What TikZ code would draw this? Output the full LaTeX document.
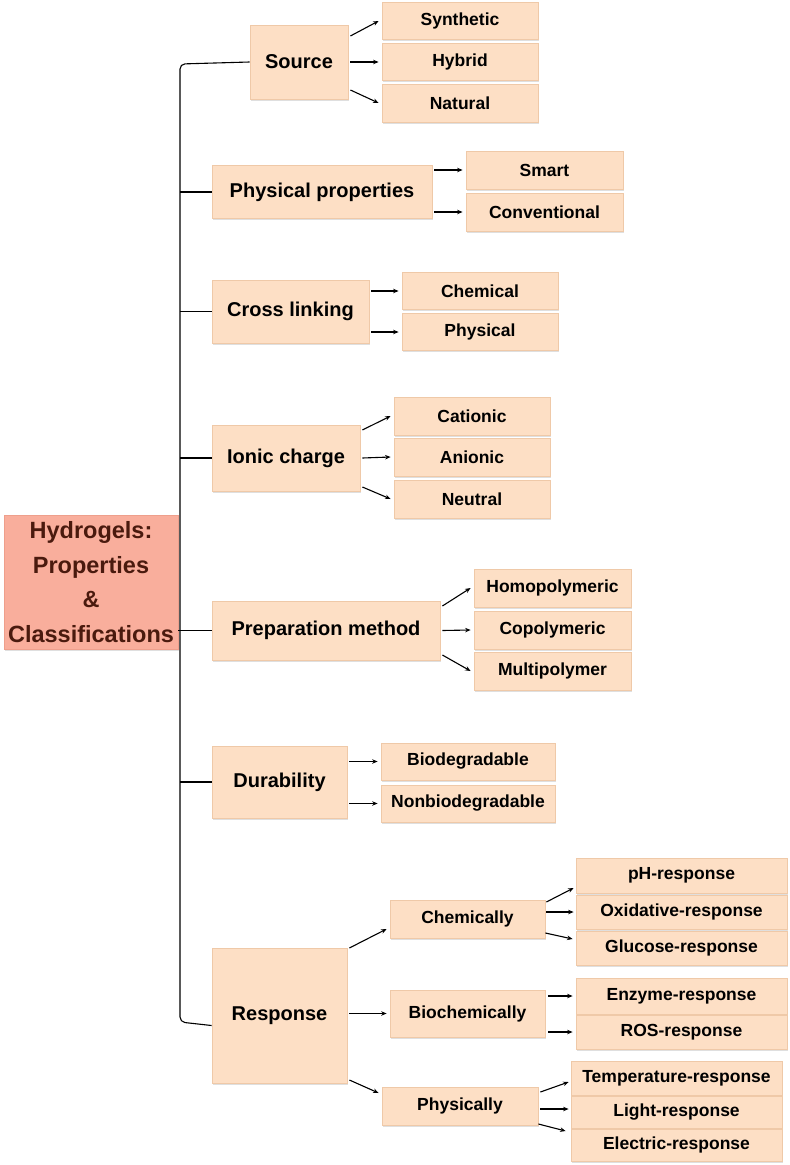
\documentclass[tikz,border=0pt]{standalone}
\usepackage{fontspec}
\setmainfont{Liberation Sans}
\usetikzlibrary{shadows,arrows.meta}
\definecolor{boxfill}{HTML}{FDDFC5}
\definecolor{boxedge}{HTML}{EFC9A8}
\definecolor{rootfill}{HTML}{F9AE9C}
\definecolor{rootedge}{HTML}{EE9F8C}
\definecolor{roottext}{HTML}{4A1A0E}
\tikzset{
  box/.style={draw=boxedge, fill=boxfill, line width=0.8pt, inner sep=0pt,
    drop shadow={shadow xshift=1.2pt, shadow yshift=-1.5pt, opacity=0.25},
    font=\fontsize{17.5}{20}\selectfont\bfseries},
  mainbox/.style={box, font=\fontsize{20}{23}\selectfont\bfseries},
  rootbox/.style={draw=rootedge, fill=rootfill, line width=0.8pt, inner sep=0pt,
    drop shadow={shadow xshift=1.2pt, shadow yshift=-1.5pt, opacity=0.25},
    text=roottext, align=center, font=\fontsize{23.5}{34.5}\selectfont\bfseries},
  conn/.style={line width=1.1pt, black},
  arr/.style={line width=1.1pt, black, -{Stealth[length=5.5pt,width=4.5pt]}}
}
\begin{document}
\begin{tikzpicture}[x=1pt,y=-1pt]
\useasboundingbox (0,0) rectangle (790,1165);
% root
\node[rootbox, minimum width=174, minimum height=134] (root) at (91,582) {Hydrogels:\\Properties\\\&\\Classifications};
% main nodes
\node[mainbox, minimum width=98, minimum height=74] (src) at (299,62) {Source};
\node[mainbox, minimum width=220, minimum height=53] (phys) at (322,192) {Physical properties};
\node[mainbox, minimum width=157, minimum height=63] (cross) at (290.5,311.5) {Cross linking};
\node[mainbox, minimum width=148, minimum height=66] (ionic) at (286,458) {Ionic charge};
\node[mainbox, minimum width=228, minimum height=59] (prep) at (326,630.5) {Preparation method};
\node[mainbox, minimum width=135, minimum height=72] (dur) at (279.5,782) {Durability};
\node[mainbox, minimum width=135, minimum height=135] (resp) at (279.5,1015.5) {Response};
% children
\node[box, minimum width=156, minimum height=37] (syn) at (460,21) {Synthetic};
\node[box, minimum width=156, minimum height=37] (hyb) at (460,62) {Hybrid};
\node[box, minimum width=156, minimum height=38] (nat) at (460,103) {Natural};
\node[box, minimum width=157, minimum height=38] (smart) at (544.5,170) {Smart};
\node[box, minimum width=157, minimum height=38] (conv) at (544.5,212) {Conventional};
\node[box, minimum width=156, minimum height=37] (chem) at (480,291) {Chemical};
\node[box, minimum width=156, minimum height=37] (physc) at (480,332) {Physical};
\node[box, minimum width=156, minimum height=38] (cat) at (472,416) {Cationic};
\node[box, minimum width=156, minimum height=38] (an) at (472,457) {Anionic};
\node[box, minimum width=156, minimum height=38] (neu) at (472,499) {Neutral};
\node[box, minimum width=157, minimum height=38] (homo) at (552.5,588) {Homopolymeric};
\node[box, minimum width=157, minimum height=38] (copo) at (552.5,630) {Copolymeric};
\node[box, minimum width=157, minimum height=38] (multi) at (552.5,671) {Multipolymer};
\node[box, minimum width=174, minimum height=37] (bio) at (468,761.5) {Biodegradable};
\node[box, minimum width=174, minimum height=37] (nonbio) at (468,803.5) {Nonbiodegradable};
\node[box, minimum width=155, minimum height=38] (chemly) at (467.5,919) {Chemically};
\node[box, minimum width=155, minimum height=47] (biochem) at (467.5,1013.5) {Biochemically};
\node[box, minimum width=156, minimum height=38] (physly) at (460,1106) {Physically};
\node[box, minimum width=211, minimum height=35] (ph) at (681.5,875.5) {pH-response};
\node[box, minimum width=211, minimum height=34] (oxi) at (681.5,912) {Oxidative-response};
\node[box, minimum width=211, minimum height=34] (glu) at (681.5,948) {Glucose-response};
\node[box, minimum width=211, minimum height=36] (enz) at (681.5,996) {Enzyme-response};
\node[box, minimum width=211, minimum height=34] (ros) at (681.5,1032) {ROS-response};
\node[box, minimum width=211, minimum height=34] (temp) at (676.5,1078) {Temperature-response};
\node[box, minimum width=211, minimum height=32] (light) at (676.5,1112) {Light-response};
\node[box, minimum width=211, minimum height=32] (elec) at (676.5,1145) {Electric-response};
% spine
\coordinate (sp) at (180,500);
\draw[conn, rounded corners=5pt] (src.west) -- (180,64) -- (180,1022) -- ([yshift=-10pt]resp.west);
\foreach \n in {phys,cross,ionic,dur} \draw[conn] (\n.west -| sp) -- (\n.west);
\draw[conn] (root.east |- prep.west) -- (prep.west);
% arrows
\draw[arr] ([xshift=2pt,yshift=26pt]src.east) -- ([xshift=-3pt]syn.west);
\draw[arr] ([xshift=2pt]src.east) -- ([xshift=-3pt]hyb.west);
\draw[arr] ([xshift=2pt,yshift=-28pt]src.east) -- ([xshift=-3pt]nat.west);
\draw[arr] ([xshift=2pt,yshift=22pt]phys.east) -- ([xshift=-3pt]smart.west);
\draw[arr] ([xshift=2pt,yshift=-20pt]phys.east) -- ([xshift=-3pt]conv.west);
\draw[arr] ([xshift=2pt,yshift=20.5pt]cross.east) -- ([xshift=-3pt]chem.west);
\draw[arr] ([xshift=2pt,yshift=-20.5pt]cross.east) -- ([xshift=-3pt]physc.west);
\draw[arr] ([xshift=2pt,yshift=28pt]ionic.east) -- ([xshift=-3pt]cat.west);
\draw[arr] ([xshift=2pt]ionic.east) -- ([xshift=-3pt]an.west);
\draw[arr] ([xshift=2pt,yshift=-29pt]ionic.east) -- ([xshift=-3pt]neu.west);
\draw[arr] ([xshift=2pt,yshift=24.5pt]prep.east) -- ([xshift=-3pt]homo.west);
\draw[arr] ([xshift=2pt]prep.east) -- ([xshift=-3pt]copo.west);
\draw[arr] ([xshift=2pt,yshift=-24.5pt]prep.east) -- ([xshift=-3pt]multi.west);
\draw[arr] ([xshift=2pt,yshift=20.5pt]dur.east) -- ([xshift=-3pt]bio.west);
\draw[arr] ([xshift=2pt,yshift=-21.5pt]dur.east) -- ([xshift=-3pt]nonbio.west);
\draw[arr] ([xshift=2pt,yshift=67.5pt]resp.east) -- ([xshift=-3pt,yshift=-10pt]chemly.west);
\draw[arr] ([xshift=2pt,yshift=2pt]resp.east) -- ([xshift=-3pt]biochem.west);
\draw[arr] ([xshift=2pt,yshift=-64.5pt]resp.east) -- ([xshift=-3pt,yshift=13pt]physly.west);
\draw[arr] ([xshift=1pt,yshift=17pt]chemly.east) -- ([xshift=-2pt,yshift=-12.5pt]ph.west);
\draw[arr] ([xshift=1pt,yshift=7pt]chemly.east) -- ([xshift=-2pt]oxi.west);
\draw[arr] ([xshift=0pt,yshift=-14pt]chemly.east) -- ([xshift=-3pt,yshift=9pt]glu.west);
\draw[arr] ([xshift=3pt,yshift=17.5pt]biochem.east) -- ([xshift=-3pt]enz.west);
\draw[arr] ([xshift=3pt,yshift=-18.5pt]biochem.east) -- ([xshift=-3pt]ros.west);
\draw[arr] ([xshift=2pt,yshift=14pt]physly.east) -- ([xshift=-2pt,yshift=-4pt]temp.west);
\draw[arr] ([xshift=2pt,yshift=-3pt]physly.east) -- ([xshift=-2pt,yshift=3pt]light.west);
\draw[arr] ([xshift=0pt,yshift=-18pt]physly.east) -- ([xshift=-5pt,yshift=14pt]elec.west);
\end{tikzpicture}
\end{document}
